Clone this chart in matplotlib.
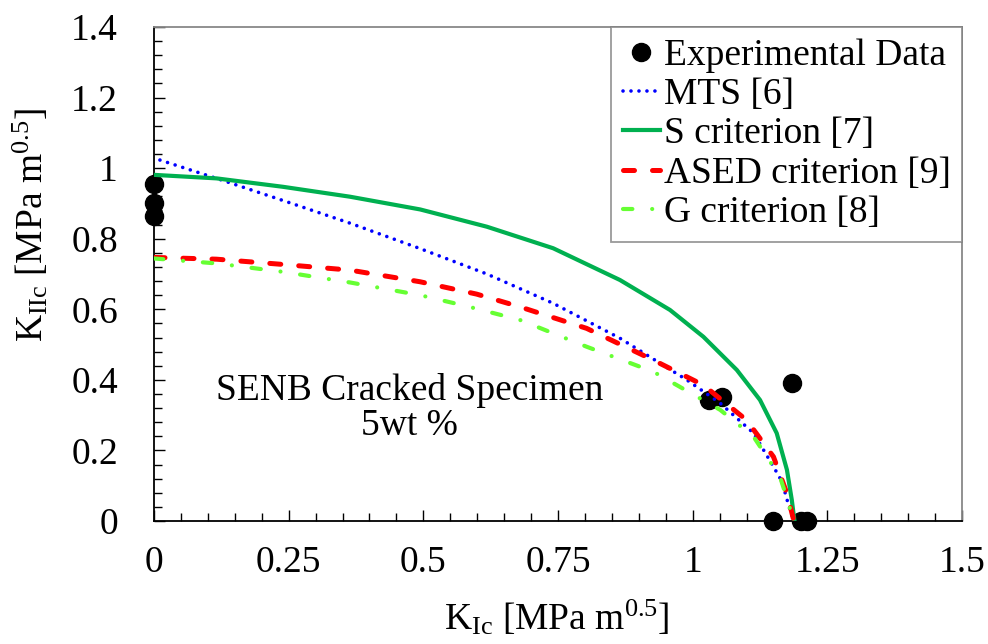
# 혼합 모드 파괴 기준 비교 그래프 (SENB, 5wt %)
import numpy as np
import matplotlib
matplotlib.use('Agg')
import matplotlib.pyplot as plt
from matplotlib.ticker import AutoMinorLocator, FuncFormatter

plt.rcParams['font.family'] = ['Liberation Serif', 'DejaVu Serif']
plt.rcParams['mathtext.fontset'] = 'custom'
plt.rcParams['mathtext.rm'] = 'Liberation Serif'
plt.rcParams['mathtext.it'] = 'Liberation Serif:italic'

# 실험 데이터
exp_kI = [0.0, 0.0, 0.0, 1.030, 1.054, 1.185, 1.149, 1.202, 1.213]
exp_kII = [0.955, 0.900, 0.865, 0.343, 0.351, 0.392, 0.0, 0.0, 0.0]

# MTS [6]
mts_kI = [0.011, 0.130, 0.246, 0.364, 0.494, 0.618, 0.741, 0.865, 0.989, 1.051,
          1.113, 1.150, 1.166, 1.178, 1.188]
mts_kII = [1.023, 0.964, 0.905, 0.844, 0.772, 0.700, 0.617, 0.518, 0.400, 0.334,
           0.249, 0.154, 0.111, 0.045, 0.0]

# S criterion [7]
s_kI = [0.0, 0.116, 0.240, 0.364, 0.494, 0.618, 0.741, 0.865, 0.958, 1.020, 1.082,
        1.125, 1.156, 1.175, 1.184, 1.189]
s_kII = [0.981, 0.971, 0.947, 0.919, 0.883, 0.834, 0.773, 0.683, 0.598, 0.522, 0.428,
         0.343, 0.249, 0.145, 0.060, 0.0]

# ASED criterion [9]
ased_kI = [0.0, 0.116, 0.240, 0.364, 0.494, 0.599, 0.679, 0.803, 0.927, 1.020, 1.100,
           1.150, 1.175, 1.188]
ased_kII = [0.747, 0.742, 0.727, 0.711, 0.678, 0.643, 0.607, 0.546, 0.456, 0.385, 0.286,
            0.182, 0.078, 0.0]

# G criterion [8]
g_kI = [0.0, 0.116, 0.240, 0.364, 0.494, 0.580, 0.679, 0.803, 0.927, 1.051, 1.113,
        1.162, 1.178, 1.187]
g_kII = [0.744, 0.730, 0.706, 0.676, 0.640, 0.609, 0.570, 0.494, 0.423, 0.315, 0.239,
         0.126, 0.050, 0.0]

x_ticks = [0, 0.25, 0.5, 0.75, 1, 1.25, 1.5]
y_ticks = [0, 0.2, 0.4, 0.6, 0.8, 1, 1.2, 1.4]

fig = plt.figure(figsize=(9.88, 6.44), dpi=100)
ax = fig.add_axes([154/988, 123/644, 808/988, 494/644])

fs = 27

ax.plot(exp_kI, exp_kII, 'o', color='black', markersize=13, clip_on=False, zorder=3,
        label='Experimental Data')
ax.plot(mts_kI, mts_kII, color='#0000FF', lw=2.6, linestyle=(0, (0.01, 2.2)),
        dash_capstyle='round', zorder=4, label='MTS [6]')
ax.plot(s_kI, s_kII, color='#00B050', lw=3.0, zorder=4, label='S criterion [7]')
ax.plot(ased_kI, ased_kII, color='#FF0000', lw=3.6, linestyle=(0, (2.2, 3.6)),
        dash_capstyle='round', zorder=4, label='ASED criterion [9]')
ax.plot(g_kI, g_kII, color='#66FF33', lw=3.0, linestyle=(0, (2.25, 4.75, 0.01, 4.75)),
        dash_capstyle='round', zorder=4, label='G criterion [8]')

ax.set_xlim(0, 1.5)
ax.set_ylim(0, 1.4)
ax.set_xticks(x_ticks)
ax.set_yticks(y_ticks)
fmt = FuncFormatter(lambda v, p: '%g' % round(v, 2))
ax.xaxis.set_major_formatter(fmt)
ax.yaxis.set_major_formatter(fmt)
ax.xaxis.set_minor_locator(AutoMinorLocator(5))
ax.yaxis.set_minor_locator(AutoMinorLocator(5))
ax.tick_params(which='both', direction='in', top=False, right=False, width=1.0,
               color='black')
ax.tick_params(which='major', length=8, labelsize=fs)
ax.tick_params(which='minor', length=6)
ax.tick_params(axis='x', which='major', pad=18)
ax.tick_params(axis='y', which='major', pad=26)

for s in ['left', 'bottom']:
    ax.spines[s].set_color('black')
    ax.spines[s].set_linewidth(1.3)
for s in ['top', 'right']:
    ax.spines[s].set_color('#888888')
    ax.spines[s].set_linewidth(1.3)

ax.set_xlabel(r'K$_{\mathrm{Ic}}$ [MPa m$^{0.5}$]', fontsize=fs)
ax.set_ylabel(r'K$_{\mathrm{IIc}}$ [MPa m$^{0.5}$]', fontsize=fs)
ax.xaxis.set_label_coords(0.499, -0.156)
ax.yaxis.set_label_coords(-0.128, 0.60)

ax.text(0.475, 0.32, 'SENB Cracked Specimen\n5wt %', fontsize=fs, ha='center',
        va='center', linespacing=1.0)

leg = ax.legend(loc='upper right', fontsize=fs, frameon=True, fancybox=False,
                borderaxespad=0, handlelength=1.0, handletextpad=0.1,
                labelspacing=0.13, borderpad=0.3, numpoints=1)
leg.get_frame().set_edgecolor('#808080')
leg.get_frame().set_linewidth(1.3)

fig.savefig('out.png', dpi=100)
